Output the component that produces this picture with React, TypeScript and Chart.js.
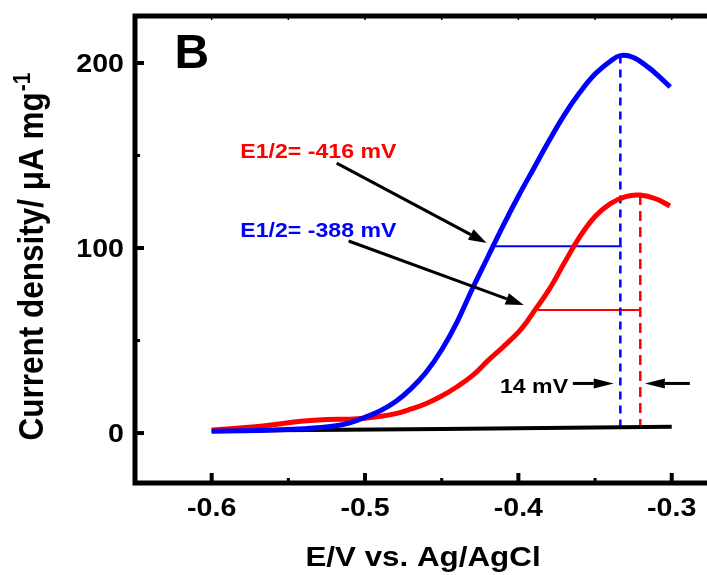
import { useEffect, useRef } from 'react';
import { Chart, registerables } from 'chart.js';

Chart.register(...registerables);

// ---- axis ticks ----
const xTicks = [-0.6, -0.5, -0.4, -0.3];
const xMinorTicks = [-0.55, -0.45, -0.35];
const xTopTicks = [-0.6, -0.55, -0.5, -0.45, -0.4, -0.35, -0.3];
const yTicks = [0, 100, 200];
const yMinorTicks = [50, 150];

// ---- curves (E / V vs. Ag/AgCl, current density / uA mg^-1) ----
const blueX = [-0.6, -0.58, -0.56, -0.54, -0.52, -0.51, -0.5, -0.49, -0.48, -0.47, -0.46, -0.45, -0.44, -0.43, -0.42, -0.41, -0.4, -0.39, -0.38, -0.37, -0.36, -0.35, -0.34, -0.3335, -0.325, -0.315, -0.308, -0.301];
const blueY = [1.0, 1.2, 1.6, 2.3, 3.8, 5.5, 8.5, 12, 17, 24, 33, 45, 60, 78, 95, 112, 128, 143, 158, 172, 184, 194, 201, 204, 203, 197.5, 192.5, 187];

const redX = [-0.6, -0.58, -0.56, -0.54, -0.525, -0.51, -0.5, -0.49, -0.48, -0.47, -0.46, -0.45, -0.44, -0.43, -0.42, -0.41, -0.4, -0.395, -0.39, -0.38, -0.37, -0.36, -0.35, -0.34, -0.33, -0.3208, -0.31, -0.3012];
const redY = [1.6, 2.8, 4.5, 6.5, 7.3, 7.5, 8, 9, 10.5, 13, 16, 20, 25, 31, 39, 46.5, 54.5, 59.5, 65.5, 77.5, 92, 106, 117, 124, 127.8, 128.6, 126.5, 122.7];

const baseX = [-0.6, -0.45, -0.3];
const baseY = [1.2, 2.2, 3.4];

// ---- markers ----
const bluePeak = { x: -0.3335, y: 204, base: 3.0 };
const redPeak = { x: -0.3205, y: 128.6, base: 3.2 };
const blueHalf = { x: -0.4167, y: 101, end: -0.3325 };
const redHalf = { x: -0.3873, y: 66.5, end: -0.3205 };

// ---- annotation text ----
const panelLabel = 'B';
const redLabel = 'E1/2= -416 mV';
const blueLabel = 'E1/2= -388 mV';
const gapLabel = '14 mV';
const xTitle = 'E/V vs. Ag/AgCl';
const yTitle = 'Current density/ \u03bcA mg';
const yTitleSup = '-1';

const FONT = '"Liberation Sans", Arial, sans-serif';
const SX = 1.1; // horizontal stretch of the original typeface

function pts(xs: number[], ys: number[]) {
  return xs.map((x, i) => ({ x, y: ys[i] }));
}

function text(ctx: CanvasRenderingContext2D, s: string, x: number, y: number, size: number, align: CanvasTextAlign, color = '#000', sx = SX) {
  ctx.save();
  ctx.translate(x, y);
  ctx.scale(sx, 1);
  ctx.font = `bold ${size}px ${FONT}`;
  ctx.fillStyle = color;
  ctx.textAlign = align;
  ctx.textBaseline = 'alphabetic';
  ctx.fillText(s, 0, 0);
  ctx.restore();
}

function arrow(ctx: CanvasRenderingContext2D, x1: number, y1: number, x2: number, y2: number, head = 18, half = 6, lw = 3) {
  const ang = Math.atan2(y2 - y1, x2 - x1);
  const bx = x2 - head * Math.cos(ang);
  const by = y2 - head * Math.sin(ang);
  ctx.strokeStyle = '#000';
  ctx.fillStyle = '#000';
  ctx.lineWidth = lw;
  ctx.beginPath();
  ctx.moveTo(x1, y1);
  ctx.lineTo(bx, by);
  ctx.stroke();
  ctx.beginPath();
  ctx.moveTo(x2, y2);
  ctx.lineTo(bx + half * Math.sin(ang), by - half * Math.cos(ang));
  ctx.lineTo(bx - half * Math.sin(ang), by + half * Math.cos(ang));
  ctx.closePath();
  ctx.fill();
}

const decor = {
  id: 'decor',
  afterDatasetsDraw(chart: any) {
    const { ctx, chartArea: a, scales } = chart;
    const X = (v: number) => scales.x.getPixelForValue(v);
    const Y = (v: number) => scales.y.getPixelForValue(v);
    ctx.save();
    // spines (no right spine)
    ctx.strokeStyle = '#000';
    ctx.lineWidth = 5;
    ctx.lineCap = 'square';
    ctx.beginPath();
    ctx.moveTo(a.left, a.bottom);
    ctx.lineTo(a.left, a.top);
    ctx.lineTo(a.right + 5, a.top);
    ctx.moveTo(a.left, a.bottom);
    ctx.lineTo(a.right + 5, a.bottom);
    ctx.stroke();
    ctx.lineCap = 'butt';
    // bottom ticks (inward)
    ctx.lineWidth = 4;
    xTicks.forEach((v) => {
      ctx.beginPath();
      ctx.moveTo(X(v), a.bottom);
      ctx.lineTo(X(v), a.bottom - 10);
      ctx.stroke();
    });
    ctx.lineWidth = 3;
    xMinorTicks.forEach((v) => {
      ctx.beginPath();
      ctx.moveTo(X(v), a.bottom);
      ctx.lineTo(X(v), a.bottom - 5);
      ctx.stroke();
    });
    ctx.lineWidth = 1.5;
    xTopTicks.forEach((v) => {
      ctx.beginPath();
      ctx.moveTo(X(v), a.top);
      ctx.lineTo(X(v), a.top + 4);
      ctx.stroke();
    });
    // left ticks
    ctx.lineWidth = 4;
    yTicks.forEach((v) => {
      ctx.beginPath();
      ctx.moveTo(a.left, Y(v));
      ctx.lineTo(a.left + 9, Y(v));
      ctx.stroke();
    });
    ctx.lineWidth = 3;
    yMinorTicks.forEach((v) => {
      ctx.beginPath();
      ctx.moveTo(a.left, Y(v));
      ctx.lineTo(a.left + 5, Y(v));
      ctx.stroke();
    });

    // tick labels
    xTicks.forEach((v) => text(ctx, v.toFixed(1), X(v), a.bottom + 33, 26, 'center'));
    yTicks.forEach((v) => text(ctx, String(v), a.left - 11, Y(v) + 9.3, 26, 'right'));

    // panel label
    text(ctx, panelLabel, X(-0.613), Y(197.3), 48, 'center', '#000', 1);

    // E1/2 labels
    text(ctx, redLabel, X(-0.5813), Y(148.5), 21, 'left', '#ff0000');
    text(ctx, blueLabel, X(-0.5813), Y(105.8), 21, 'left', '#0000ff');

    // arrows to E1/2 points
    arrow(ctx, X(-0.5185), Y(145.9), X(-0.4207), Y(102.7));
    arrow(ctx, X(-0.5107), Y(103.8), X(-0.3965), Y(69.2));

    // 14 mV label and arrows
    text(ctx, gapLabel, X(-0.3676), Y(21.5), 21, 'right');
    arrow(ctx, X(-0.3645), Y(26.8), X(-0.3378), Y(26.8), 20, 5, 3);
    arrow(ctx, X(-0.2882), Y(26.8), X(-0.3175), Y(26.8), 20, 5, 3);

    // axis titles
    text(ctx, xTitle, (a.left + a.right) / 2 + 2, 566, 28.5, 'center');

    ctx.save();
    ctx.translate(43, 257);
    ctx.rotate(-Math.PI / 2);
    ctx.scale(1, SX);
    ctx.fillStyle = '#000';
    ctx.textBaseline = 'alphabetic';
    ctx.font = `bold 31.5px ${FONT}`;
    const w1 = ctx.measureText(yTitle).width;
    ctx.font = `bold 21px ${FONT}`;
    const w2 = ctx.measureText(yTitleSup).width;
    const start = -(w1 + w2) / 2;
    ctx.textAlign = 'left';
    ctx.font = `bold 31.5px ${FONT}`;
    ctx.fillText(yTitle, start, 0);
    ctx.font = `bold 21px ${FONT}`;
    ctx.fillText(yTitleSup, start + w1 + 1, -12);
    ctx.restore();

    ctx.restore();
  },
};

export default function App() {
  const ref = useRef<HTMLCanvasElement | null>(null);
  useEffect(() => {
    if (!ref.current) return;
    const thin = { pointRadius: 0, borderWidth: 2, fill: false, tension: 0 };
    const chart = new Chart(ref.current, {
      type: 'scatter',
      data: {
        datasets: [
          {
            data: pts(blueX, blueY),
            showLine: true,
            borderColor: '#0000ff',
            borderWidth: 5,
            pointRadius: 0,
            tension: 0.4,
            order: 1,
          } as any,
          {
            data: pts(redX, redY),
            showLine: true,
            borderColor: '#ff0000',
            borderWidth: 5,
            pointRadius: 0,
            tension: 0.4,
            order: 2,
          } as any,
          {
            data: pts(baseX, baseY),
            showLine: true,
            borderColor: '#000000',
            borderWidth: 4,
            pointRadius: 0,
            order: 3,
          } as any,
          {
            data: [{ x: bluePeak.x, y: bluePeak.y }, { x: bluePeak.x, y: bluePeak.base }],
            showLine: true,
            borderColor: '#0000ff',
            borderDash: [8, 6],
            ...thin,
            borderWidth: 2.5,
            order: 4,
          } as any,
          {
            data: [{ x: redPeak.x, y: redPeak.y }, { x: redPeak.x, y: redPeak.base }],
            showLine: true,
            borderColor: '#ff0000',
            borderDash: [10, 6],
            ...thin,
            borderWidth: 2.5,
            order: 4,
          } as any,
          {
            data: [{ x: blueHalf.x, y: blueHalf.y }, { x: blueHalf.end, y: blueHalf.y }],
            showLine: true,
            borderColor: '#0000ff',
            ...thin,
            order: 5,
          } as any,
          {
            data: [{ x: redHalf.x, y: redHalf.y }, { x: redHalf.end, y: redHalf.y }],
            showLine: true,
            borderColor: '#ff0000',
            ...thin,
            order: 5,
          } as any,
        ],
      },
      options: {
        animation: false,
        responsive: false,
        maintainAspectRatio: false,
        layout: { padding: { top: 16, right: 0, left: 0, bottom: 0 } },
        plugins: { legend: { display: false }, tooltip: { enabled: false } },
        scales: {
          x: {
            type: 'linear',
            min: -0.65,
            max: -0.277,
            grid: { display: false, drawTicks: false },
            border: { display: false },
            ticks: { display: false },
            afterBuildTicks: (s: any) => {
              s.ticks = xTicks.map((v) => ({ value: v }));
            },
            afterFit: (s: any) => {
              s.height = 92;
              s.paddingLeft = 0;
              s.paddingRight = 0;
            },
          },
          y: {
            type: 'linear',
            min: -27,
            max: 225.4,
            grid: { display: false, drawTicks: false },
            border: { display: false },
            ticks: { display: false },
            afterBuildTicks: (s: any) => {
              s.ticks = yTicks.map((v) => ({ value: v }));
            },
            afterFit: (s: any) => {
              s.width = 135;
              s.paddingTop = 0;
              s.paddingBottom = 0;
            },
          },
        },
      },
      plugins: [decor],
    } as any);
    return () => chart.destroy();
  }, []);
  return (
    <div style={{ position: 'absolute', left: 0, top: 0, width: 707, height: 575, background: '#fff' }}>
      <canvas ref={ref} width={707} height={575} style={{ display: 'block', width: 707, height: 575 }} />
    </div>
  );
}
